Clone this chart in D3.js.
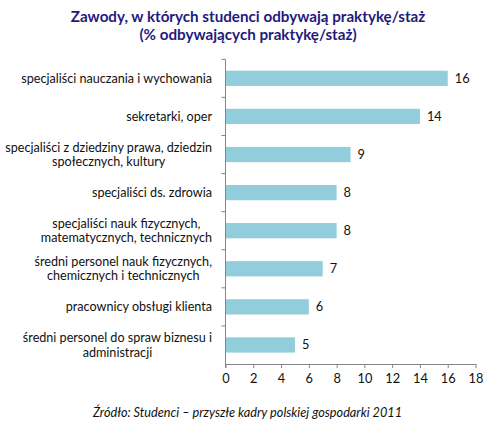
<!DOCTYPE html>
<html><head><meta charset="utf-8">
<script src="https://cdn.jsdelivr.net/npm/d3@7"></script>
<style>body{margin:0;background:#fff}svg{display:block}</style>
</head><body>
<svg id="c" width="492" height="433"></svg>
<script>
const titleLines = ["Zawody, w których studenci odbywają praktykę/staż", "(% odbywających praktykę/staż)"];
const sourceText = "Źródło: Studenci – przyszłe  kadry polskiej gospodarki 2011";
const categories = [
  "specjaliści nauczania i wychowania",
  "sekretarki, oper",
  "specjaliści z dziedziny prawa, dziedzin\nspołecznych, kultury",
  "specjaliści ds. zdrowia",
  "specjaliści nauk fizycznych,\nmatematycznych, technicznych",
  "średni personel nauk fizycznych,\nchemicznych i technicznych",
  "pracownicy obsługi klienta",
  "średni personel do spraw biznesu i\nadministracji"
];
const values = [16, 14, 9, 8, 8, 7, 6, 5];
const xTicks = [0, 2, 4, 6, 8, 10, 12, 14, 16, 18];

(function () {
const svg = d3.select("#c");
const FONT = "Lato, 'Open Sans', sans-serif";
const pL = 225.5, pR = 475.5, pT = 59.3, pB = 364;

const x = d3.scaleLinear().domain([0, 18]).range([pL, pR]);
const y = d3.scaleBand().domain(categories).range([pT, pB]).paddingInner(0.6).paddingOuter(0.3);
const yb = d3.scaleBand().domain(categories).range([pT, pB]);

// title
svg.append("g").selectAll("text").data(titleLines).join("text")
  .attr("x", 248).attr("y", (d, i) => 21.5 + i * 18.5)
  .attr("text-anchor", "middle")
  .attr("font-family", FONT).attr("font-weight", "bold").attr("font-size", 15.2)
  .attr("fill", "#1f1b7c").text(d => d);

// bars
svg.append("g").selectAll("rect").data(values).join("rect")
  .attr("x", x(0)).attr("y", (d, i) => y(categories[i]))
  .attr("width", d => x(d) - x(0)).attr("height", y.bandwidth())
  .attr("fill", "#92cddc");

// value labels
svg.append("g").selectAll("text").data(values).join("text")
  .attr("x", d => x(d) + 7).attr("y", (d, i) => y(categories[i]) + y.bandwidth() / 2)
  .attr("dy", "0.35em")
  .attr("font-family", FONT).attr("font-size", 12.8).attr("fill", "#111")
  .text(d => d);

// x axis
const xAxis = svg.append("g").attr("transform", `translate(0,${pB})`)
  .call(d3.axisBottom(x).tickValues(xTicks).tickSize(4).tickSizeOuter(0));
xAxis.select(".domain").attr("stroke", "#868686");
xAxis.selectAll(".tick line").attr("stroke", "#868686");
xAxis.selectAll(".tick text").attr("font-family", FONT).attr("font-size", 12.8)
  .attr("fill", "#111").attr("y", 10);

// y axis line + separator ticks
const yAxisG = svg.append("g");
yAxisG.append("line").attr("x1", pL).attr("x2", pL).attr("y1", pT).attr("y2", pB + 4)
  .attr("stroke", "#868686");
yAxisG.selectAll("line.t").data(categories.slice(1)).join("line").attr("class", "t")
  .attr("x1", pL - 4).attr("x2", pL).attr("y1", d => yb(d)).attr("y2", d => yb(d))
  .attr("stroke", "#868686");
yAxisG.append("line").attr("x1", pL - 4).attr("x2", pL).attr("y1", pT).attr("y2", pT)
  .attr("stroke", "#868686");

// category labels
const labelRight = 212;
categories.forEach(cat => {
  const lines = cat.split("\n");
  const g = svg.append("g");
  const cy = yb(cat) + yb.bandwidth() / 2;
  const ts = g.selectAll("text").data(lines).join("text")
    .attr("y", (d, i) => cy + (i - (lines.length - 1) / 2) * 14.3)
    .attr("dy", "0.35em")
    .attr("font-family", FONT).attr("font-size", 12.6).attr("fill", "#111")
    .attr("text-anchor", "middle").text(d => d);
  let maxW = 0;
  ts.each(function () { maxW = Math.max(maxW, this.getComputedTextLength()); });
  ts.attr("x", labelRight - maxW / 2);
});

// source
svg.append("text").attr("x", 247.5).attr("y", 417).attr("text-anchor", "middle")
  .attr("font-family", FONT).attr("font-style", "italic").attr("font-size", 12.7)
  .attr("fill", "#111").text(sourceText);
})();
</script>
</body></html>
